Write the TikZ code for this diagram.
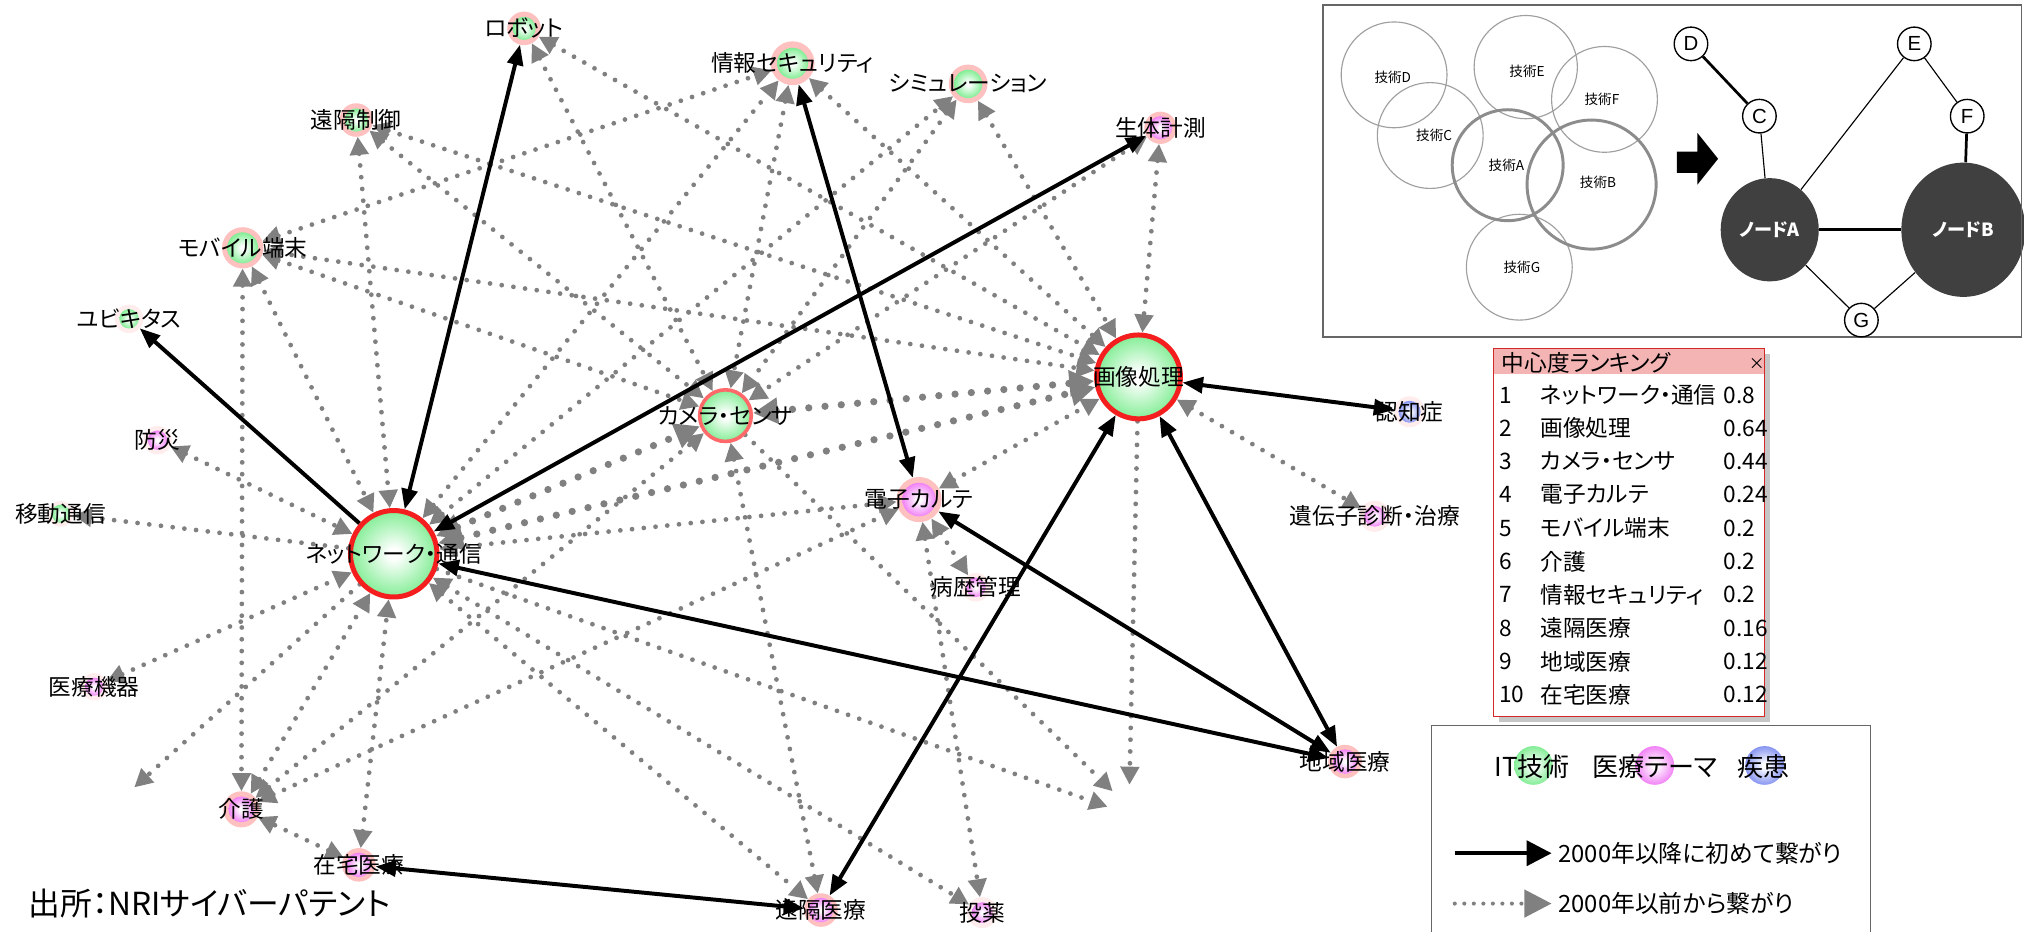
\documentclass[tikz,border=0pt]{standalone}
\usepackage{fontspec}
\setmainfont{Noto Sans CJK JP}
\newfontfamily\jpf{Noto Sans CJK JP}[RawFeature=+palt]
\newfontfamily\lat{Liberation Sans}
\usetikzlibrary{arrows.meta,shapes.geometric}
\definecolor{itg}{RGB}{120,236,140}
\definecolor{mdp}{RGB}{240,120,245}
\definecolor{dsb}{RGB}{125,140,240}
\definecolor{halop}{RGB}{255,192,192}
\definecolor{halol}{RGB}{255,236,236}
\definecolor{ringr}{RGB}{245,30,30}
\definecolor{ringc}{RGB}{255,105,105}
\definecolor{dg}{RGB}{128,128,128}
\definecolor{hdr}{RGB}{244,180,180}
\definecolor{dark}{RGB}{64,64,64}
\definecolor{boxred}{RGB}{210,40,40}
\pgfdeclareradialshading{gg}{\pgfpoint{0bp}{0bp}}{color(0bp)=(white); color(3bp)=(white); color(27bp)=(itg); color(50bp)=(itg)}
\pgfdeclareradialshading{gp}{\pgfpoint{0bp}{0bp}}{color(0bp)=(white); color(3bp)=(white); color(27bp)=(mdp); color(50bp)=(mdp)}
\pgfdeclareradialshading{gb}{\pgfpoint{0bp}{0bp}}{color(0bp)=(white); color(3bp)=(white); color(27bp)=(dsb); color(50bp)=(dsb)}
\pgfdeclarelayer{back}
\pgfdeclarelayer{bg}
\pgfsetlayers{back,bg,main}
\tikzset{
 halo/.style={circle, inner sep=0pt, outer sep=0pt, fill=#1},
 core/.style={circle, inner sep=0pt, shade, shading=#1},
 lbl/.style={inner sep=0pt, font=\jpf\fontsize{10}{12}\selectfont},
 lblb/.style={inner sep=0pt, font=\jpf\fontsize{11.5}{13}\selectfont},
 old/.style={draw=dg, line width=2.1pt, line cap=round, dash pattern=on 0pt off 5.2pt, >={Triangle[length=8pt,width=8pt]}},
 big/.style={draw=dg, line width=3.2pt, line cap=round, dash pattern=on 0pt off 7.2pt, >={Triangle[length=11pt,width=11pt]}},
 new/.style={draw=black, line width=1.75pt, >={Triangle[length=9pt,width=7pt]}},
 gnode/.style={circle, draw=black, line width=0.6pt, fill=white, minimum size=0.52cm, inner sep=0pt, font=\lat\fontsize{9}{10}\selectfont},
 venn/.style={draw=gray!75, line width=0.5pt},
 vennb/.style={draw=gray!90, line width=1.3pt},
 vlbl/.style={inner sep=0pt, font=\jpf\fontsize{6}{7}\selectfont},
}
% name, x, y, halo diam, core diam, shading, halo colour, label
\newcommand\gn[8]{%
 \node[halo=#7, minimum size=#4cm] (#1) at (#2,#3) {};
 \node[core=#6, minimum size=#5cm] at (#1) {};
 \node[lbl] (#1-t) at (#1) {#8};}
\begin{document}
\begin{tikzpicture}[x=0.02cm, y=-0.02cm]
\useasboundingbox (0,0) rectangle (1568,722);
\begin{pgfonlayer}{back}
\fill[white] (0,0) rectangle (1568,722);
\end{pgfonlayer}

% ---------- main network ----------
\node[circle, inner sep=0pt, shade, shading=gg, draw=ringr, line width=2.2pt, minimum size=1.34cm] (N) at (305,429) {};
\node[circle, inner sep=0pt, shade, shading=gg, draw=ringr, line width=2.2pt, minimum size=1.30cm] (G) at (882,292) {};
\node[circle, inner sep=0pt, shade, shading=gg, draw=ringc, line width=1.6pt, minimum size=0.80cm] (C) at (562,322) {};
\node[lbl] (N-t) at (N) {ネットワーク・通信};
\node[lbl] (G-t) at (G) {画像処理};
\node[lbl] (C-t) at (C) {カメラ・センサ};

\gn{R}{406}{22}{0.52}{0.36}{gg}{halop}{ロボット}
\gn{EC}{276}{93}{0.52}{0.36}{gg}{halop}{遠隔制御}
\gn{IS}{614}{49}{0.68}{0.48}{gg}{halop}{情報セキュリティ}
\gn{SIM}{750}{65}{0.60}{0.44}{gg}{halop}{シミュレーション}
\gn{BIO}{899}{99}{0.50}{0.36}{gp}{halop}{生体計測}
\gn{MOB}{188}{192}{0.64}{0.48}{gg}{halop}{モバイル端末}
\gn{UBI}{100}{247}{0.44}{0.30}{gg}{halol}{ユビキタス}
\gn{BOU}{122}{341}{0.44}{0.30}{gp}{halol}{防災}
\gn{IDO}{47}{398}{0.40}{0.28}{gg}{halol}{移動通信}
\gn{IRY}{73}{532}{0.42}{0.28}{gp}{halol}{医療機器}
\gn{KAI}{187}{627}{0.56}{0.40}{gp}{halop}{介護}
\gn{ZAI}{278}{670}{0.52}{0.38}{gp}{halop}{在宅医療}
\gn{K}{712}{387}{0.70}{0.52}{gp}{halop}{電子カルテ}
\gn{BYO}{756}{455}{0.44}{0.30}{gp}{halol}{病歴管理}
\gn{IDE}{1065}{400}{0.48}{0.32}{gp}{halol}{遺伝子診断・治療}
\gn{NIN}{1092}{319}{0.48}{0.34}{gb}{halol}{認知症}
\gn{CHI}{1042}{590}{0.52}{0.38}{gp}{halop}{地域医療}
\gn{ENI}{636}{705}{0.52}{0.38}{gp}{halop}{遠隔医療}
\gn{TOY}{761}{707}{0.48}{0.32}{gp}{halol}{投薬}

\coordinate (d1) at (875,608);
\coordinate (d2) at (862,613);
\coordinate (d3) at (858,625);
\coordinate (d4) at (104,610);

\begin{pgfonlayer}{bg}
% dotted: connected before 2000
\draw[old,<->] (R) -- (G);
\draw[old,<->] (R) -- (C);
\draw[old,<->] (EC) -- (N);
\draw[old,<->] (EC) -- (C);
\draw[old,<->] (EC) -- (G);
\draw[old,<->] (MOB) -- (KAI);
\draw[old,<->] (MOB) -- (N);
\draw[old,<->] (MOB) -- (IS);
\draw[old,<->] (MOB) -- (G);
\draw[old,<->] (MOB) -- (C);
\draw[old,<->] (BOU) -- (N);
\draw[old,->] (N) -- (IDO);
\draw[old,<->] (IRY) -- (N);
\draw[old,->] (N) -- (d4);
\draw[old,<->] (KAI) -- (N);
\draw[old,<->] (KAI) -- (C);
\draw[old,<->] (KAI) -- (K);
\draw[old,<->] (ZAI) -- (N);
\draw[old,<->] (ZAI) -- (KAI);
\draw[old,<->] (N) -- (K);
\draw[old,<->] (N) -- (IS);
\draw[old,<->] (N) -- (SIM);
\draw[old,<->] (N) -- (ENI);
\draw[old,<->] (N) -- (TOY);
\draw[old,->] (N) -- (d3);
\draw[old,<->] (IS) -- (C);
\draw[old,<->] (IS) -- (G);
\draw[old,<->] (SIM) -- (C);
\draw[old,<->] (SIM) -- (G);
\draw[old,<->] (BIO) -- (C);
\draw[old,<->] (BIO) -- (G);
\draw[old,<->] (K) -- (G);
\draw[old,<->] (K) -- (BYO);
\draw[old,<->] (K) -- (TOY);
\draw[old,<->] (C) -- (ENI);
\draw[old,->] (C) -- (d2);
\draw[old,->] (G) -- (d1);
\draw[old,<->] (G) -- (IDE);
\draw[big,<->] (N) -- (C);
\draw[big,<->] (N) -- (G);
\draw[big,<->] (C) -- (G);
% solid: first connected after 2000
\draw[new,<->] (N) -- (R);
\draw[new,->] (N) -- (UBI);
\draw[new,<->] (N) -- (BIO);
\draw[new,<->] (IS) -- (K);
\draw[new,<->] (N) -- (CHI);
\draw[new,<->] (G) -- (ENI);
\draw[new,<->] (G) -- (CHI);
\draw[new,<->] (K) -- (CHI);
\draw[new,<->] (NIN) -- (G);
\draw[new,<->] (ZAI) -- (ENI);
\end{pgfonlayer}

\node[anchor=west, inner sep=0pt, font=\jpf\fontsize{14}{16}\selectfont] (src) at (22,700) {出所：NRIサイバーパテント};

% ---------- inset (top right) ----------
\draw[gray!80!black, line width=0.6pt] (1025,4) rectangle (1566,261);
\draw[venn] (1080,58) circle[radius=0.82cm];
\draw[venn] (1108,105) circle[radius=0.82cm];
\draw[venn] (1182,52) circle[radius=0.80cm];
\draw[venn] (1243,77) circle[radius=0.82cm];
\draw[venn] (1177,207) circle[radius=0.82cm];
\draw[vennb] (1168,128) circle[radius=0.86cm];
\draw[vennb] (1233,143) circle[radius=1.0cm];
\node[vlbl] at (1079,60) {技術D};
\node[vlbl] at (1111,105) {技術C};
\node[vlbl] at (1183,55) {技術E};
\node[vlbl] at (1241,77) {技術F};
\node[vlbl] at (1167,128) {技術A};
\node[vlbl] at (1238,141) {技術B};
\node[vlbl] at (1179,207) {技術G};
\fill[black] (1299,117.5) -- (1315,117.5) -- (1315,103) -- (1331,123) -- (1315,143) -- (1315,134) -- (1299,134) -- cycle;
\node[ellipse, fill=dark, minimum width=1.52cm, minimum height=1.60cm, inner sep=0pt, text=white, font=\jpf\bfseries\fontsize{8}{9}\selectfont] (iA) at (1371,178) {ノードA};
\node[ellipse, fill=dark, minimum width=1.92cm, minimum height=2.08cm, inner sep=0pt, text=white, font=\jpf\bfseries\fontsize{8}{9}\selectfont] (iB) at (1521,178) {ノードB};
\node[gnode] (iD) at (1310,34) {D};
\node[gnode] (iC) at (1363,90) {C};
\node[gnode] (iE) at (1483,34) {E};
\node[gnode] (iF) at (1524,90) {F};
\node[gnode] (iG) at (1442,248) {G};
\draw[line width=1.2pt] (iD) -- (iC);
\draw[line width=0.5pt] (iC) -- (iA);
\draw[line width=0.5pt] (iA) -- (iE);
\draw[line width=0.5pt] (iE) -- (iF);
\draw[line width=1.2pt] (iF) -- (iB);
\draw[line width=1.5pt] (iA) -- (iB);
\draw[line width=0.5pt] (iA) -- (iG);
\draw[line width=0.5pt] (iG) -- (iB);
\draw[gray!80!black, line width=0.6pt] (1566,4) -- (1566,261);

% ---------- ranking box ----------
\fill[gray!45] (1161,274) rectangle (1371,559);
\filldraw[fill=white, draw=boxred, line width=0.6pt] (1157,270) rectangle (1367,555);
\fill[hdr] (1157.6,270.6) rectangle (1366.4,290);
\node[anchor=west, inner sep=0pt, font=\jpf\fontsize{10}{12}\selectfont] at (1163,281) {中心度ランキング};
\node[inner sep=0pt, font=\jpf\fontsize{7}{8}\selectfont] at (1361,282) {×};
\foreach \i/\nm/\v in {1/ネットワーク・通信/0.8, 2/画像処理/0.64, 3/カメラ・センサ/0.44, 4/電子カルテ/0.24, 5/モバイル端末/0.2, 6/介護/0.2, 7/情報セキュリティ/0.2, 8/遠隔医療/0.16, 9/地域医療/0.12, 10/在宅医療/0.12}{
 \node[anchor=west, inner sep=0pt, font=\jpf\fontsize{10}{12}\selectfont] at (1161,{306+25.8*(\i-1)}) {\i};
 \node[anchor=west, inner sep=0pt, font=\jpf\fontsize{10}{12}\selectfont] at (1193,{306+25.8*(\i-1)}) {\nm};
 \node[anchor=west, inner sep=0pt, font=\jpf\fontsize{10}{12}\selectfont] at (1335,{306+25.8*(\i-1)}) {\v};
}

% ---------- legend ----------
\draw[gray!80!black, line width=0.6pt] (1109,562) rectangle (1449,740);
\node[core=gg, minimum size=0.60cm] (lgG) at (1188,593) {};
\node[core=gp, minimum size=0.60cm] (lgP) at (1282,593) {};
\node[core=gb, minimum size=0.60cm] (lgB) at (1367,593) {};
\node[lblb] at (1187,594) {IT技術};
\node[lblb] at (1282,594) {医療テーマ};
\node[lblb] at (1366,594) {疾患};
\coordinate (lg1a) at (1127,661);
\coordinate (lg1b) at (1202,661);
\coordinate (lg2a) at (1127,700);
\coordinate (lg2b) at (1202,700);
\draw[line width=1.7pt, -{Triangle[length=11pt,width=11pt]}] (lg1a) -- (lg1b);
\draw[draw=dg, line width=1.8pt, line cap=round, dash pattern=on 0pt off 4.2pt, -{Triangle[length=12pt,width=12pt]}] (lg2a) -- (lg2b);
\node[anchor=west, inner sep=0pt, font=\jpf\fontsize{10.5}{12}\selectfont] at (1207,661) {2000年以降に初めて繋がり};
\node[anchor=west, inner sep=0pt, font=\jpf\fontsize{10.5}{12}\selectfont] at (1207,700) {2000年以前から繋がり};
\end{tikzpicture}
\end{document}
